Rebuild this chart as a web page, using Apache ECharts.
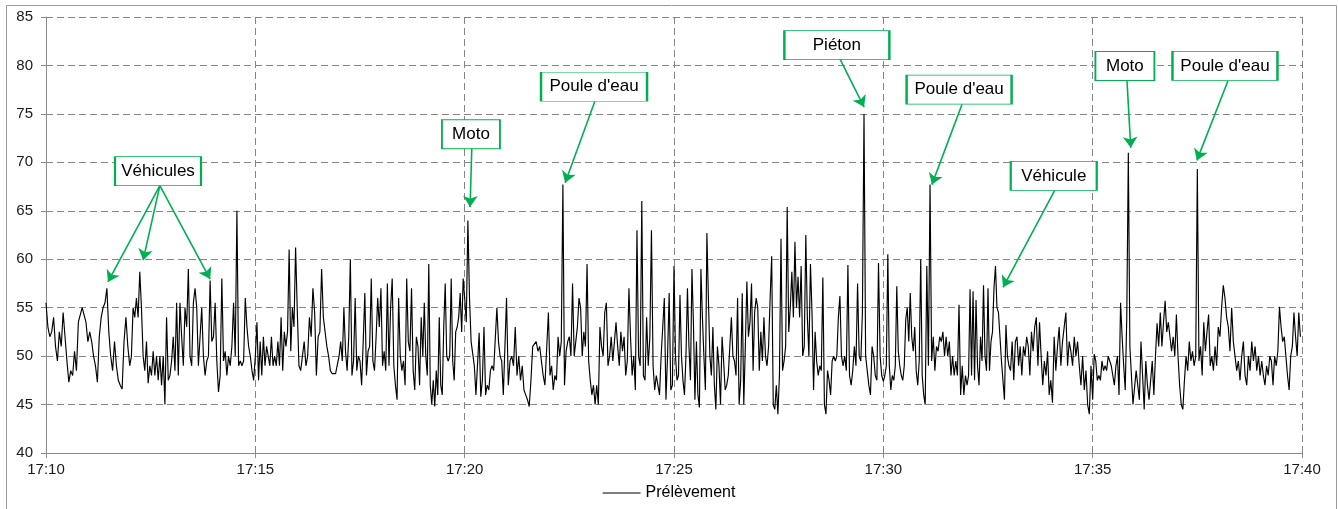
<!DOCTYPE html>
<html>
<head>
<meta charset="utf-8">
<script src="https://cdn.jsdelivr.net/npm/echarts@6/dist/echarts.min.js"></script>
<style>
html,body{margin:0;padding:0;background:#fff;}
#chart{width:1338px;height:509px;}
</style>
</head>
<body>
<div id="chart"></div>
<script>
// Sound level readings (dB), one list per minute, 17:10 -> 17:40
const block1710 = [
  [55.5,53,52,52.5,54,51,49.5,52.5,51,54.5,52,49.5,47.3,48.5,48,50.5,48.5,53.5,53.4,55,54.8,53.5],
  [51.5,52.5,51.5,50,49,47.3,52,54,55,55.5,57,52.5,50,48.5,51.5,49,47.5,47,46.6,51.5,54,51],
  [49,50,55,54,56,54,58.7,55,50,48.5,51.5,47.2,49,48,50.5,48,50,47.5,50,47,50,45,54,47.5,48],
  [49.5,52,48.5,55.5,48,55.5,52,49,55,53,59,50,49,55.5,57,55,49,52,55,50,48,49.5,50,57.8,51.5],
  [52,55.5,49.5,46.3,48,58,49.5,50.5,48,50,49,51,55.5,50,65,49,49.5,49,49.5,56,53,51,50,48.5,47.5]
];
const block1715 = [
  [50,53.5,47.5,51.5,48,52,49,51,50,49,52,49,50,49,51.5,49,54,48.5,52.5,51,52.5,61,50.5,55,53,61.2],
  [55,49,48.5,50,51.5,49,50,54,52,57,54.5,48,52,52.5,59,54,54,51,50,48.5,48.2,48.2,48.2,48],
  [50,51.5,49.5,55,50.5,48.5,52,60,48,49.5,56,48.5,50,49.5,47,51.5,56.5,48,50.5,51,58,49.5,48.5,52,56,53],
  [57,49,50.5,48.5,57.5,49,55,58,49,47,45.5,56,50,48.5,49.5,47,58,51.5,50.5,57,48.5,46.5,52,51,47,54],
  [50,55.5,50,48,59.5,47,45,47.5,44.8,48.5,46,54,47,46,53,57.5,50,49.5,50,58,49.5,47.5,52.5,53,54,56.5,52.5,58]
];
const block1720 = [
  [56,53.5,64,56,51.5,51.5,49,46,46,52.4,45.8,47.5,53,46,47,46.5,48.5,49,48.5,48.5,55,51.5,50,49.5,46,46],
  [56,47,49.5,50,49,53,48,50,47.5,49,46.5,46,45.5,44.8,47.5,51,51,51.5,50.5,51,49.5,48,47,47],
  [54.5,48,49,46.5,48,47.5,52,50,51.5,67.7,47,50.5,51.5,52,50,57.5,50,51.5,53,56,55,50,52.5,51,59.5,49.5],
  [47.5,46,47,45,47,45,53,51,50,54.5,55.5,49,50,52,49.5,51.5,53.5,51,49,52.5,50.5,52,48,49.5,57,52],
  [48,50,46.5,63,50,49,66,48,47.5,54,49,52,63,49,46.5,48,47,46,50,50,56,45.5,50,56.5,46.5,47]
];
const block1725 = [
  [59.3,50,47.5,48,56.3,50,47.5,46,50,57,51,47.5,59,53.4,45.5,51.5,46,44.7,59,54,50,46.5,62.7,56,50,48,53,47],
  [44.5,51,49,45,52,49.5,46.5,47,48,51,54,50,49.5,48,56,45,47.5,56.5,45,51,57.7,52,53.5,57.5,48.5,54.5,56],
  [55,48.5,52.5,49.5,54,50,49,51,56,60.3,45,44.5,47,44,48,62.1,48.5,49.5,51,65.4,52.5,55,58.7,54,61.8,55,58.2],
  [54,59.3,50,51,62.5,54,50,59.5,54.5,46.5,52.5,49.5,48,49,48.5,58.1,45,44,48.5,47.5,46,49.5,50,49.5,50,54,56.2],
  [50,49,50,48.5,59.4,48,47,48.5,51,49,57.5,50,49.5,54.5,75,50,48.5,47,46,51,50,48,47.5,59.6,50,48]
];
const block1730 = [
  [47.4,48,49,60.5,49,46.5,48,47.5,49,57.2,50.5,49,48,47.5,49,53.8,55,51.5,56.5,52,50.5,53,48.5,47,49.5,60,48,46],
  [45,59.3,49,67.7,49.5,52,48.5,51,50.5,52,51.5,52.5,50,52,50,51.5,48,50,48,49.5,48,55.3,46,49,46,48],
  [47,48,56.9,48,56.7,47.5,55.8,49,47,52,49.5,57.3,50,48.5,57,48.5,51.5,52.5,57,59.3,55,54.5,52,49.5,47.5,45.5,53.2,50],
  [49,48.5,51.5,47.5,51.5,52,49,51,48,51,50,52,51,48,52.5,50.5,53,54,49,53.5,50,47,49.5,48,50.5,46],
  [47.5,45.2,52,48.5,51,53,49,51.5,53,54.5,49,51.5,50.5,49,52,50,51.5,49,47,50,46.5,48.5,45,44,49]
];
const block1735 = [
  [45.5,50.2,49.5,47.5,48,47.5,49.5,48.5,49,48.5,50,49.5,49,48,47,49,50,46,55.5,52,49,46.5,54,71,51,48,45],
  [45,48.5,47,45.5,51.5,48,44.5,49.5,47,45.5,47.5,49.5,46,50,53.4,51,54.5,51,53.5,55.7,52.5,53.5,52,50.5,52,50],
  [54.3,50,47,45,44.5,47.5,50,48.5,51.5,49.5,50.5,49,50,69.3,49.5,51,48,53.5,50.5,52.5,54.3,49,50,48.5,51,49],
  [53,52,55,57.3,56,54,53,50.5,55,51.5,50,48.5,49.5,47.5,50,51.5,48,47,50,48.5,51.5,49.5,51,48.5,50],
  [48,49.5,48,47,49,48,50,49.5,47,50,49,50.5,55.1,53,51.5,52,50,48,46.5,50,51,54.5,52,50,54.5,52]
];

// x ticks: minutes after 17:00 ; y ticks in dB
const xMin = 10, xMax = 40, xStep = 5;
const yMin = 40, yMax = 85, yStep = 5;
const seriesName = 'Prélèvement';

// Annotations (data coordinates: minutes after 17:00, dB)
const annLabels = ['Véhicules','Moto',"Poule d'eau",'Piéton',"Poule d'eau",'Véhicule','Moto',"Poule d'eau"];
const annBoxAt = [[12.675,69.1],[20.15,72.9],[23.09,77.8],[28.89,82.1],[31.81,77.5],[34.07,68.6],[35.77,79.95],[38.16,79.95]];
const annArrowFrom = [[12.72,67.6],[12.72,67.6],[12.72,67.6],[20.17,71.5],[23.11,76.3],[28.96,80.7],[31.88,76.0],[34.10,67.15],[35.82,78.4],[38.23,78.4]];
const annArrowTo = [[11.48,57.65],[12.32,59.9],[13.92,57.95],[20.13,65.4],[22.40,67.9],[29.54,75.7],[31.16,67.7],[32.86,57.1],[35.91,71.5],[37.49,70.2]];
const boxWidths = [86,58,106,105,105,86,59,105];

const minutes = [].concat(block1710, block1715, block1720, block1725, block1730, block1735);
const data = [];
minutes.forEach(function (vals, m) {
  const n = vals.length;
  vals.forEach(function (v, i) { data.push([xMin + m + i / n, v]); });
});

const green = '#00b050';
const font = 'Arial, "Liberation Sans", sans-serif';
const gridLine = { show: true, lineStyle: { color: '#858585', width: 1, type: [7, 4] } };

const chart = echarts.init(document.getElementById('chart'), null, { renderer: 'canvas' });
chart.setOption({
  animation: false,
  backgroundColor: '#fff',
  graphic: [{
    type: 'rect', silent: true, z: -10,
    shape: { x: 6.5, y: 5.5, width: 1330, height: 520 },
    style: { fill: 'none', stroke: '#9a9a9a', lineWidth: 1 }
  }],
  grid: { left: 46, right: 36, top: 17, bottom: 56, containLabel: false },
  legend: {
    show: true, left: 'center', top: 480,
    icon: 'rect', itemWidth: 38, itemHeight: 1.2, itemGap: 10,
    itemStyle: { color: '#000', borderWidth: 0 },
    textStyle: { fontFamily: font, fontSize: 16, color: '#000' },
    data: [{ name: seriesName }]
  },
  xAxis: {
    type: 'value', min: xMin, max: xMax, interval: xStep,
    axisLine: { show: true, lineStyle: { color: '#8c8c8c', width: 1 } },
    axisTick: { show: true, length: 5, lineStyle: { color: '#8c8c8c' } },
    axisLabel: { fontFamily: font, fontSize: 15, color: '#1a1a1a', margin: 9,
      formatter: function (v) { return '17:' + (v < 10 ? '0' + v : v); } },
    splitLine: gridLine
  },
  yAxis: {
    type: 'value', min: yMin, max: yMax, interval: yStep,
    axisLine: { show: true, lineStyle: { color: '#8c8c8c', width: 1 } },
    axisTick: { show: true, length: 5, lineStyle: { color: '#8c8c8c' } },
    axisLabel: { fontFamily: font, fontSize: 15, color: '#1a1a1a', margin: 13 },
    splitLine: gridLine
  },
  series: [{
    name: seriesName,
    type: 'line',
    data: data,
    symbol: 'none',
    showSymbol: false,
    lineStyle: { color: '#000', width: 1.15 },
    itemStyle: { color: '#000' },
    z: 3,
    markLine: {
      silent: true, animation: false,
      symbol: ['none', 'arrow'], symbolSize: 11,
      lineStyle: { color: green, width: 1.6, type: 'solid' },
      label: { show: false },
      emphasis: { disabled: true },
      data: annArrowFrom.map(function (f, i) {
        return [{ coord: f }, { coord: annArrowTo[i] }];
      })
    },
    markPoint: {
      silent: true, animation: false,
      data: annLabels.map(function (t, i) {
        return {
          name: t, coord: annBoxAt[i],
          symbol: 'rect', symbolSize: [boxWidths[i], 29],
          itemStyle: { color: '#fff', borderColor: green, borderWidth: 1.3 },
          label: { show: true, position: 'inside', formatter: t,
            fontFamily: font, fontSize: 17, color: '#000' }
        };
      })
    }
  }]
});
</script>
</body>
</html>
